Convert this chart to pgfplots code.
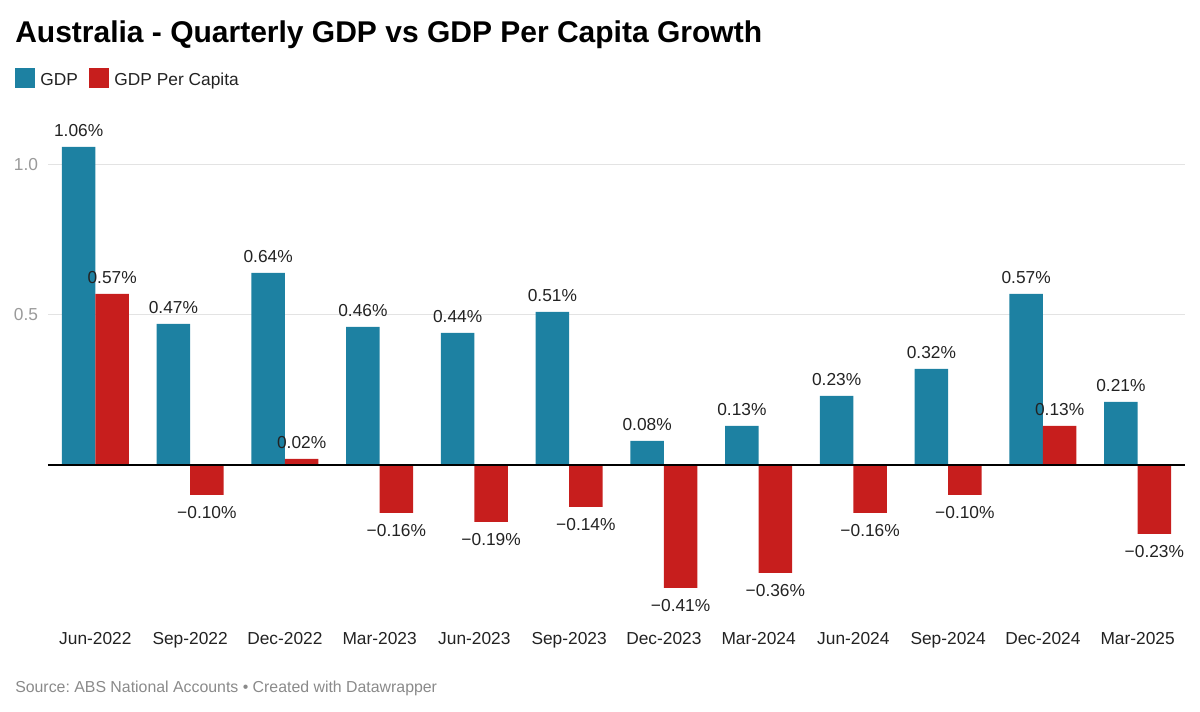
\documentclass[border=0pt]{standalone}
\usepackage{pgfplots}
\usepackage{pgfplotstable}
\pgfplotsset{compat=1.18}
\usepackage{fontspec}
\setmainfont{Liberation Sans}
\frenchspacing
\definecolor{gdp}{HTML}{1D81A2}
\definecolor{pc}{HTML}{C71E1D}
\definecolor{txt}{HTML}{222222}
\definecolor{ygray}{HTML}{9A9A9A}
\definecolor{gridc}{HTML}{E3E3E3}
\definecolor{src}{HTML}{8A8A8A}

\pgfplotstableread{
x gdp gdplab pc pclab
0 1.06 1.06\% 0.57 0.57\%
1 0.47 0.47\% -0.10 −0.10\%
2 0.64 0.64\% 0.02 0.02\%
3 0.46 0.46\% -0.16 −0.16\%
4 0.44 0.44\% -0.19 −0.19\%
5 0.51 0.51\% -0.14 −0.14\%
6 0.08 0.08\% -0.41 −0.41\%
7 0.13 0.13\% -0.36 −0.36\%
8 0.23 0.23\% -0.16 −0.16\%
9 0.32 0.32\% -0.10 −0.10\%
10 0.57 0.57\% 0.13 0.13\%
11 0.21 0.21\% -0.23 −0.23\%
}\data

\begin{document}
\begin{tikzpicture}[x=1pt,y=1pt]
\path (0,0) rectangle (900,533.25);
\node[anchor=base west, font=\bfseries\fontsize{22.5}{27}\selectfont, text=black, inner sep=0pt] at (11.25,501) {Australia - Quarterly GDP vs GDP Per Capita Growth};
\begin{axis}[
  at={(36pt,72pt)}, anchor=south west,
  scale only axis, width=852.75pt, height=360pt,
  xmin=-0.5, xmax=11.5, ymin=-0.5, ymax=1.1,
  enlargelimits=false,
  ybar=0pt, bar width=25.125pt,
  axis line style={draw=none},
  tick style={draw=none},
  ytick={0.5,1}, yticklabels={0.5,1.0},
  ymajorgrids, grid style={draw=gridc, line width=0.75pt},
  xtick={0,...,11},
  xticklabels={Jun-2022,Sep-2022,Dec-2022,Mar-2023,Jun-2023,Sep-2023,Dec-2023,Mar-2024,Jun-2024,Sep-2024,Dec-2024,Mar-2025},
  xticklabel style={font=\fontsize{13}{15}\selectfont, text=txt, inner sep=0pt, anchor=north, yshift=-8.5pt},
  yticklabel style={font=\fontsize{13}{15}\selectfont, text=ygray, inner sep=0pt, anchor=east, xshift=-7.3pt},
  nodes near coords,
  point meta=explicit symbolic,
  visualization depends on={rawy \as \rawy},
  every node near coord/.append style={font=\fontsize{13}{15}\selectfont, text=txt, inner xsep=0pt, inner ysep=8pt, text depth=0pt,
    anchor=\ifdim\rawy pt<0pt north\else south\fi},
  legend columns=2,
  legend style={at={(-0.02902,1.1177)}, anchor=west, draw=none, fill=none, inner sep=0pt,
    font=\fontsize{13}{15}\selectfont, text=txt,
    nodes={inner xsep=3.75pt, inner ysep=0pt},
    /tikz/every even column/.append style={column sep=5pt}},
]
\addplot[fill=gdp, draw=none, legend image code/.code={\fill[gdp] (0pt,-5.85pt) rectangle (15pt,9.15pt);}] table[x=x, y=gdp, meta=gdplab] {\data};
\addplot[fill=pc, draw=none, legend image code/.code={\fill[pc] (0pt,-5.85pt) rectangle (15pt,9.15pt);}] table[x=x, y=pc, meta=pclab] {\data};
\legend{GDP, GDP Per Capita}
\draw[black, line width=1pt] (axis cs:-0.5,0) -- (axis cs:11.5,0);
\end{axis}
\node[anchor=base west, font=\fontsize{11.9}{14}\selectfont, text=src, inner sep=0pt] at (11.25,14.25) {Source: ABS National Accounts • Created with Datawrapper};
\end{tikzpicture}
\end{document}
